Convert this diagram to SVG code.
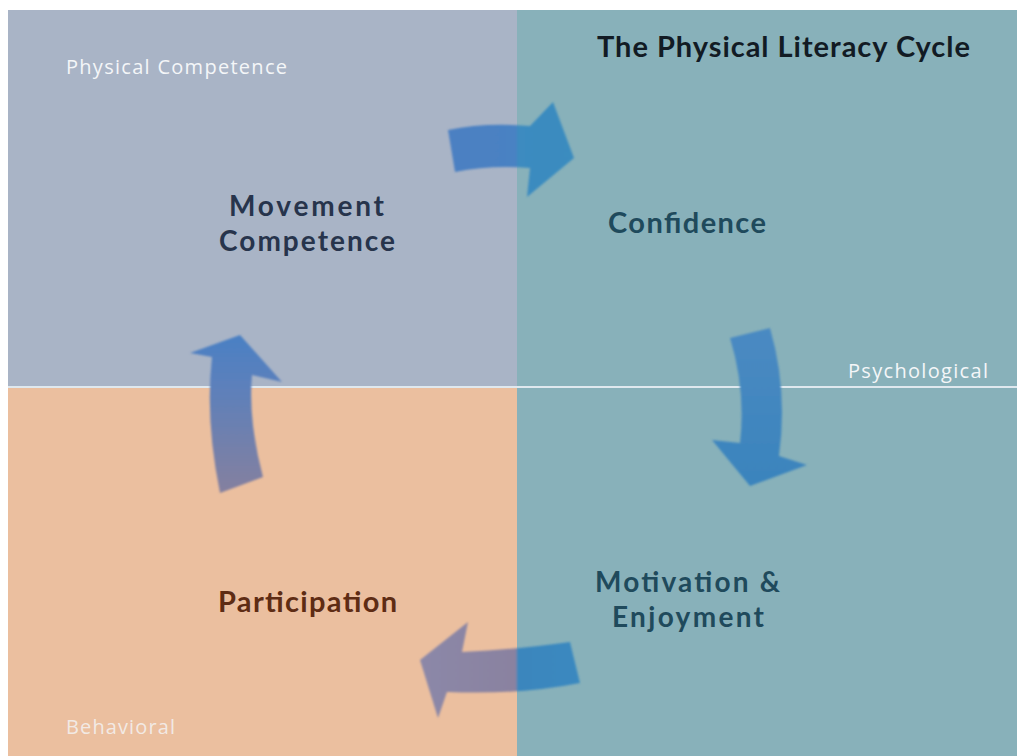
<svg xmlns="http://www.w3.org/2000/svg" width="1017" height="756" viewBox="0 0 1017 756">
  <style>
    .label { font-family: Lato, "Open Sans", "Liberation Sans", sans-serif; font-weight: bold; }
    .corner { font-family: "Open Sans", "Liberation Sans", sans-serif; font-size: 20px; fill: #f4f6f8; }
    .arrow { stroke: none; }
  </style>
  <defs>
    <linearGradient id="gRight" gradientUnits="userSpaceOnUse" x1="440" y1="0" x2="580" y2="0">
      <stop offset="0" stop-color="#4d80c2"/>
      <stop offset="0.54" stop-color="#4a82c3"/>
      <stop offset="0.56" stop-color="#3c8bc0"/>
      <stop offset="1" stop-color="#3a8cbf"/>
    </linearGradient>
    <linearGradient id="gDown" gradientUnits="userSpaceOnUse" x1="0" y1="328" x2="0" y2="487">
      <stop offset="0" stop-color="#4b8ac2"/>
      <stop offset="1" stop-color="#3a84bd"/>
    </linearGradient>
    <linearGradient id="gLeft" gradientUnits="userSpaceOnUse" x1="420" y1="0" x2="580" y2="0">
      <stop offset="0" stop-color="#8c88a8"/>
      <stop offset="0.6" stop-color="#8a82a0"/>
      <stop offset="0.61" stop-color="#3b86bd"/>
      <stop offset="1" stop-color="#3a89c0"/>
    </linearGradient>
    <linearGradient id="gUp" gradientUnits="userSpaceOnUse" x1="0" y1="335" x2="0" y2="493">
      <stop offset="0" stop-color="#4a80c4"/>
      <stop offset="0.3" stop-color="#5b80bc"/>
      <stop offset="1" stop-color="#85809f"/>
    </linearGradient>
    <filter id="soft" x="-10%" y="-10%" width="120%" height="120%">
      <feGaussianBlur stdDeviation="0.8"/>
    </filter>
  </defs>

  <!-- page margin -->
  <rect x="0" y="0" width="1017" height="756" fill="#ffffff"/>

  <!-- quadrants -->
  <g id="quadrants">
    <rect x="8" y="10" width="509" height="377" fill="#a9b4c6"/>
    <rect x="517" y="10" width="500" height="746" fill="#88b1ba"/>
    <rect x="8" y="387" width="509" height="369" fill="#ebbf9f"/>
    <line x1="8" y1="387" x2="1017" y2="387" stroke="#dfe8ee" stroke-width="2"/>
  </g>

  <!-- axis labels -->
  <g id="axis-labels">
    <text class="corner" x="66" y="74" textLength="221">Physical Competence</text>
    <text class="corner" x="848" y="378" textLength="140">Psychological</text>
    <text class="corner" x="66" y="734" textLength="109" fill-opacity="0.8">Behavioral</text>
  </g>

  <!-- title -->
  <g id="title">
    <text class="label" x="597" y="57" font-size="29" fill="#121b24" textLength="373">The Physical Literacy Cycle</text>
  </g>

  <!-- cycle arrows -->
  <g id="connectors" filter="url(#soft)">
    <path class="arrow" fill="url(#gRight)" d="M448,130 Q485,122 530,126 L553,102 L574,158 L527,197 L530,168 Q490,165 455,172 Z"/>
    <path class="arrow" fill="url(#gDown)" d="M730,338 Q746,390 740,443 L712,440 L750,486 L807,465 L779,456 Q788,390 770,328 Z"/>
    <path class="arrow" fill="url(#gLeft)" d="M570,642 Q520,649 462,652 L468,622 L420,660 L438,718 L447,692 Q520,695 580,683 Z"/>
    <path class="arrow" fill="url(#gUp)" d="M220,493 Q205,420 212,357 L190,353 L240,335 L282,382 L252,375 Q248,420 263,477 Z"/>
  </g>

  <!-- stages -->
  <g id="node-movement">
    <text class="label" x="229" y="216" font-size="28" fill="#27344c" textLength="155">Movement</text>
    <text class="label" x="219" y="251" font-size="28" fill="#27344c" textLength="176">Competence</text>
  </g>
  <g id="node-confidence">
    <text class="label" x="608" y="233" font-size="29" fill="#1f4a5c" textLength="158">Confidence</text>
  </g>
  <g id="node-motivation">
    <text class="label" x="595" y="592" font-size="28" fill="#1f4a5c" textLength="185">Motivation &amp;</text>
    <text class="label" x="612" y="627" font-size="28" fill="#1f4a5c" textLength="152">Enjoyment</text>
  </g>
  <g id="node-participation">
    <text class="label" x="218" y="612" font-size="29" fill="#5e2c14" textLength="179">Participation</text>
  </g>
</svg>
